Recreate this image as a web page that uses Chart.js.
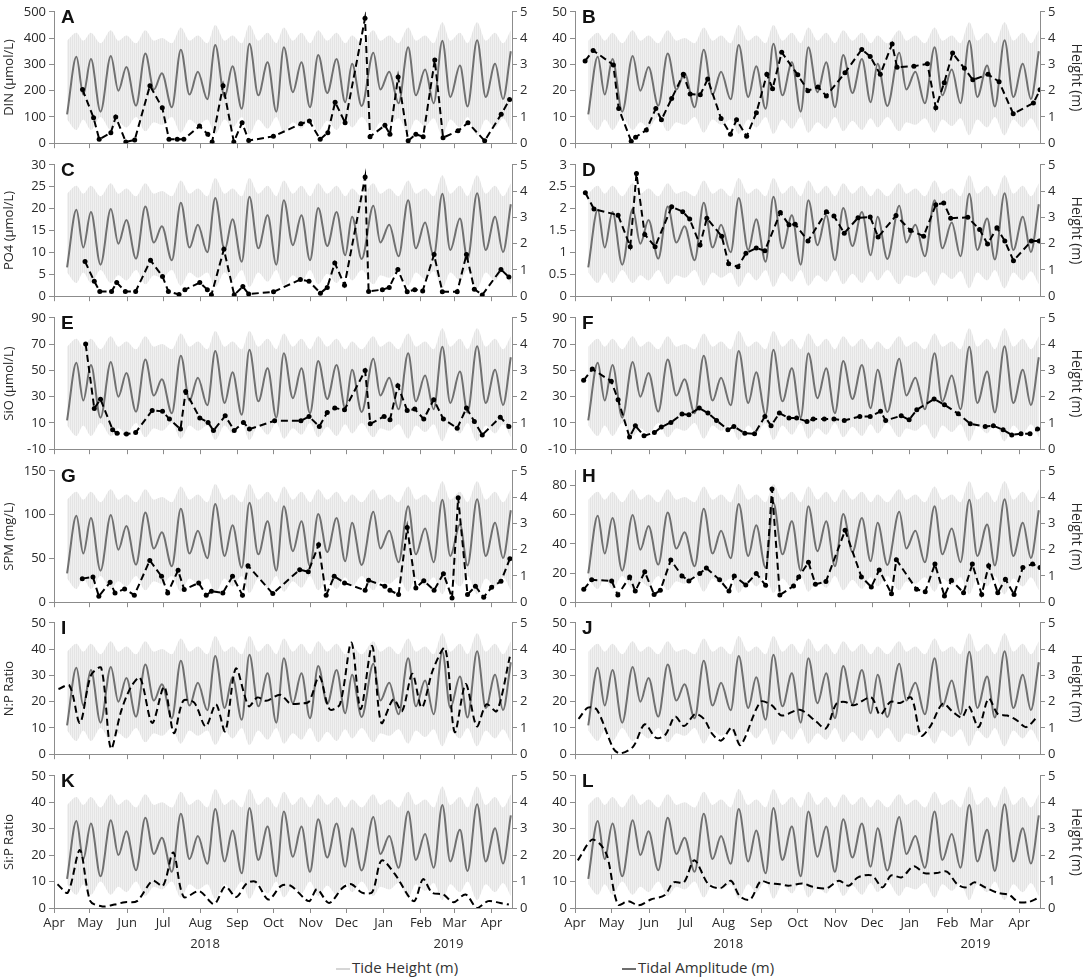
<!DOCTYPE html>
<html>
<head>
<meta charset="utf-8">
<script src="https://cdn.jsdelivr.net/npm/chart.js@4.4.0/dist/chart.umd.min.js"></script>
<style>
  body { margin: 0; background: #fff; width: 1084px; height: 980px; position: relative; overflow: hidden; font-family: 'Open Sans', sans-serif; }
  canvas { position: absolute; }
  .leg { position: absolute; top: 956px; height: 22px; line-height: 22px; font-size: 15px; color: #333; white-space: nowrap; }
  .leg i { display: inline-block; width: 14px; height: 2px; vertical-align: middle; margin-right: 2px; }
</style>
</head>
<body>
<div class="leg" style="left:336px"><i style="background:#d6d6d6"></i>Tide Height (m)</div>
<div class="leg" style="left:622px"><i style="background:#6e6e6e"></i>Tidal Amplitude (m)</div>
<script>
// x values are days since 1 Apr 2018
const monthDays = [0, 30, 61, 91, 122, 153, 183, 214, 244, 275, 306, 334, 365];
const monthLabels = ['Apr', 'May', 'Jun', 'Jul', 'Aug', 'Sep', 'Oct', 'Nov', 'Dec', 'Jan', 'Feb', 'Mar', 'Apr'];
const xMax = 382;

// tidal amplitude, read at its peaks and troughs (m)
const ampDays = [10.9, 18.7, 24.4, 30.8, 38.8, 47.4, 53.7, 60.4, 68.4, 76.2, 83.3, 90.0, 98.3, 105.8, 113, 120, 127.9, 134.5, 142.3, 148.9, 156.6, 163, 170.4, 178.2, 185.4, 191.7, 199.2, 206.4, 213.5, 220.4, 227.9, 235.7, 242.9, 248.6, 256.6, 266.4, 272.2, 279.6, 287.4, 295.4, 301.8, 309.5, 316.7, 323.9, 330.5, 338.6, 344.9, 352.9, 360.1, 367.9, 374.5, 381];
const ampVals = [1.10, 3.29, 1.85, 3.20, 1.20, 3.32, 2.00, 2.90, 1.43, 3.41, 2.04, 2.66, 1.37, 3.56, 1.85, 2.72, 1.67, 3.74, 1.76, 2.93, 1.31, 3.78, 1.82, 3.08, 1.20, 3.65, 1.94, 3.08, 1.37, 3.36, 1.91, 3.20, 1.56, 3.02, 1.42, 3.44, 2.04, 2.72, 1.52, 3.65, 1.82, 2.80, 1.52, 3.90, 1.76, 2.96, 1.40, 3.92, 1.76, 3.02, 1.68, 3.5];
// envelope of the tide height band (m), at the same days
const tideHigh = [3.9, 4.2, 3.9, 4.2, 3.8, 4.3, 3.9, 4.1, 3.8, 4.3, 3.9, 4.0, 3.8, 4.4, 3.9, 4.1, 3.8, 4.5, 3.9, 4.1, 3.8, 4.5, 3.9, 4.2, 3.8, 4.4, 3.9, 4.2, 3.8, 4.3, 3.9, 4.2, 3.8, 4.1, 3.8, 4.3, 3.9, 4.1, 3.8, 4.4, 3.9, 4.1, 3.8, 4.6, 3.9, 4.2, 3.8, 4.6, 3.9, 4.2, 3.8, 4.3];
const tideLow = [0.9, 0.5, 0.9, 0.5, 1.0, 0.5, 0.8, 0.6, 1.0, 0.45, 0.8, 0.7, 1.0, 0.4, 0.9, 0.7, 0.9, 0.35, 0.9, 0.6, 1.0, 0.35, 0.9, 0.55, 1.0, 0.4, 0.8, 0.55, 1.0, 0.45, 0.85, 0.5, 0.95, 0.6, 1.0, 0.45, 0.8, 0.7, 0.95, 0.4, 0.9, 0.65, 0.95, 0.3, 0.9, 0.6, 1.0, 0.3, 0.9, 0.6, 0.95, 0.45];

// sampled variables
const daysA = [23.8, 33, 37.7, 47.4, 51.5, 59.9, 67.3, 80, 90.3, 95.9, 102.8, 108.3, 121.4, 128.3, 131.9, 141, 150, 156.9, 162.4, 183, 206, 213, 222, 228.4, 234.5, 242.8, 259.4, 263.6, 276, 280.2, 287, 295.4, 301.8, 307.9, 317.6, 324.5, 337, 345.3, 359.2, 373, 380];
const dinA = [204, 97, 15, 40, 100, 5, 12, 219, 135, 15, 15, 15, 65, 34, 5, 219, 5, 78, 10, 26, 74, 84, 15, 40, 156, 78, 475, 25, 68, 34, 252, 9, 34, 25, 317, 21, 47, 78, 9, 110, 166];

const daysB = [8.3, 14.9, 31.5, 35.9, 46.2, 49.8, 58.6, 66.4, 71, 79.4, 89, 94.6, 102.9, 109, 120, 127.7, 132.7, 141, 149, 157.6, 162.3, 169.8, 183, 191.3, 199.6, 206.5, 221.8, 235.6, 242.5, 250.8, 260.5, 264.6, 278.4, 289.5, 296.4, 303.3, 310.2, 319.9, 326.8, 339.3, 348.4, 360, 376.6, 382];
const dinB = [31.3, 35.3, 29.8, 13.2, 0.7, 2.3, 5.0, 13.2, 8.9, 17, 26.2, 18.7, 18.4, 24.4, 9.4, 3.4, 8.9, 2.6, 11.6, 26.2, 20.7, 34.6, 26, 20, 21.4, 18, 26.8, 35.7, 33, 26.2, 37.7, 28.9, 29.3, 30.2, 13.5, 23, 34.3, 28.5, 24.1, 26.2, 23.4, 11.2, 15.3, 20.3];

const daysC = [25.9, 33.6, 38.2, 48, 52.3, 59.5, 68.1, 80.5, 90.5, 95.4, 104.3, 109.2, 121.6, 127.9, 131.3, 141.7, 150.3, 157.5, 162.4, 183.1, 205.5, 212.7, 222.2, 227.9, 234.2, 242.3, 259.5, 262.4, 273.9, 279.6, 286.8, 294.6, 300.9, 307.5, 317, 323.9, 336.3, 344, 350.6, 357.2, 372.8, 379.4];
const po4C = [7.9, 3.4, 1.1, 1.1, 3.1, 1.1, 1.1, 8.2, 4.5, 1.1, 0.4, 1.5, 3.1, 1.5, 0.3, 10.7, 0.3, 2.2, 0.5, 1.0, 3.8, 3.4, 0.7, 2.0, 7.6, 2.5, 27.2, 1.1, 1.5, 2.0, 6.1, 1.0, 1.5, 1.2, 9.5, 1.0, 1.0, 9.5, 1.6, 0.3, 6.1, 4.4];

const daysD = [8.5, 15.6, 35.4, 45.4, 50.5, 57.3, 65.8, 79.4, 88.5, 94.2, 102.7, 108.3, 120.5, 126.2, 133.9, 140.4, 148.9, 156, 168.7, 175.8, 180.9, 191.4, 206.5, 212.7, 221.2, 232.5, 242.5, 249, 263.7, 275.7, 286.4, 296.4, 302.9, 308.6, 322.7, 332.4, 338.9, 346.6, 353.1, 360.2, 374.9, 381.4];
const po4D = [2.36, 1.99, 1.85, 1.13, 2.8, 1.41, 1.13, 2.04, 1.93, 1.76, 1.17, 1.78, 1.37, 0.74, 0.67, 0.98, 1.10, 1.04, 1.91, 1.63, 1.64, 1.26, 1.93, 1.83, 1.44, 1.79, 1.81, 1.35, 1.84, 1.50, 1.37, 2.09, 2.13, 1.78, 1.8, 1.52, 1.19, 1.56, 1.26, 0.81, 1.26, 1.26];

const daysE = [26.4, 33.6, 38.8, 48.9, 52.6, 60.4, 68.1, 81.9, 90.5, 96.3, 105.5, 109.8, 121.6, 128.5, 133, 142.8, 150.3, 158, 163, 184, 206, 212.7, 221.3, 227.9, 234.2, 242.3, 259.5, 263.8, 275.3, 280.2, 286.8, 294.6, 300.9, 308.4, 316.7, 324.8, 336.3, 344, 350.6, 357.2, 372.2, 379.4];
const sioE = [70, 21, 28, 4.8, 2.2, 1.5, 2.7, 19.5, 18.8, 12.9, 5.3, 34, 13.7, 10.4, 4.2, 15.4, 4.2, 10.4, 5.3, 11.6, 11.6, 14.9, 7.3, 18, 21.3, 20, 49.8, 9.3, 14.9, 12.4, 38.3, 19.5, 20.5, 12.9, 27.7, 12.9, 6, 21.3, 11.1, 0.9, 14.4, 7.3];

const daysF = [7.1, 14.2, 29.8, 35.4, 44.8, 49.6, 56.7, 65.2, 70.9, 78.8, 87.9, 93.6, 102.1, 109.2, 116.3, 125.6, 130.5, 139.5, 147.5, 156, 161.1, 167.9, 175.8, 182.1, 190.6, 195.7, 204.8, 212.7, 221.2, 234, 242.5, 251, 255.2, 268, 274.5, 280.8, 295, 303.5, 314.8, 324.7, 337, 343.7, 351.7, 358.8, 366.4, 373.8, 380];
const sioF = [42.4, 51, 41.7, 27.7, -0.8, 7.8, 0.2, 2.7, 6.8, 10.4, 16.7, 16.2, 21.3, 17.5, 11.9, 4.8, 7.3, 2.2, 1.7, 14.9, 7.8, 17.5, 13.7, 13.7, 11.1, 12.9, 12.9, 12.9, 11.9, 14.9, 14.9, 18.8, 11.9, 15.4, 12.4, 20, 28.2, 23.8, 17, 9.3, 7.3, 7.8, 4.8, 0.9, 1.7, 1.7, 5.3];

const daysG = [23.6, 32.5, 37.4, 46.8, 50.9, 58.9, 67, 79.9, 89.7, 94.8, 103.5, 108.6, 120.7, 127, 131.3, 140.8, 148.9, 157.2, 161.8, 182.5, 204.9, 212.1, 220.7, 227, 233.7, 242.3, 259.5, 262.4, 275.9, 280.2, 287.4, 294.6, 301.8, 308.4, 317, 324.8, 332, 337.1, 344.9, 351.5, 358.4, 365, 372.8, 380.2];
const spmG = [26.9, 28.8, 6.8, 22.7, 10.6, 15.2, 8, 47.7, 29.5, 10.6, 36.4, 14.4, 22, 8, 12.5, 10.6, 29.5, 8, 41.7, 9.8, 37.1, 34.8, 65.5, 8, 29.5, 22, 13.6, 25, 18.2, 13.6, 8.7, 85.2, 16.3, 24.6, 13.6, 32.6, 4.9, 119.3, 8.7, 18.2, 5.7, 17, 23.9, 49.6];

const daysH = [7.2, 13.7, 30.1, 35.2, 44.9, 49.5, 57.3, 65, 70.1, 78.7, 87.9, 93.6, 102.5, 107.9, 118.8, 126.5, 130.8, 140.3, 148.9, 156.6, 161.8, 168.3, 179.5, 183.8, 191.8, 197.5, 206.1, 221.9, 235.3, 243.4, 249.9, 260, 264, 280.6, 287.7, 295.7, 303.5, 309.2, 319.2, 326.4, 334.1, 339.8, 347.3, 353.6, 360.7, 367.9, 375.9, 382];
const spmH = [8.8, 15.3, 14.6, 4.9, 17.3, 7.6, 20.8, 5.3, 8.1, 28.9, 18, 14.6, 19.7, 23.4, 15.3, 7.6, 18, 11.8, 19.7, 11.6, 77.5, 4.9, 11.1, 17.3, 27.3, 12.3, 14.1, 49.2, 17.3, 10.4, 22, 5.8, 29.1, 8.8, 7.2, 26.1, 4.2, 15, 6.5, 26.1, 5.3, 25, 6.5, 15.7, 5.3, 23.8, 26.1, 23.8];

const daysI = [3.7, 12.9, 21.6, 30.8, 39.4, 47.4, 56, 64.1, 71.8, 81.9, 91.9, 100, 107.8, 117, 126.5, 135.1, 142.8, 151.7, 162.4, 169.6, 176.8, 188.8, 196.9, 205.5, 212.7, 221.3, 229.9, 238.5, 248, 255.8, 265.3, 273, 283.1, 290.3, 298.9, 306.7, 316.1, 326.2, 334.2, 343.4, 352.6, 360.7, 369.3, 380.2];
const npI = [24.8, 26.1, 11.9, 30, 32.8, 2.2, 16.4, 25.5, 29.1, 11.9, 25.7, 8, 20.3, 19.6, 10.6, 19, 8.7, 32.6, 18.3, 21.6, 20.3, 22.6, 19.3, 19.3, 20, 29.6, 17.1, 19, 42.5, 17.1, 41.2, 11.9, 20.9, 16.4, 30.6, 17.7, 32.2, 40.3, 8.4, 26.7, 10.6, 19, 16.4, 37.1];

const daysJ = [2.9, 10.6, 18, 31.5, 37.2, 47.8, 57.3, 66.7, 74.4, 82.2, 89.6, 98.8, 105.9, 113.1, 120.2, 128.8, 136, 152.3, 161.8, 169.8, 184.7, 197.5, 206.1, 214.7, 221.9, 229, 243.4, 250.6, 259.1, 267.1, 276.3, 284.3, 292, 302, 310.6, 317.8, 323.5, 331.5, 339.8, 347.3, 355, 362.7, 370.7, 379.9];
const npJ = [13.4, 17.7, 16.9, 2.2, 0.3, 2.9, 11.4, 6.2, 7.5, 14.3, 10.7, 15.3, 13.4, 7.5, 5.2, 10.1, 3.5, 19.9, 18.6, 14.7, 16.9, 12.7, 9.8, 19.2, 19.9, 18.6, 21.6, 15, 19.9, 19.5, 21.5, 7.1, 10.7, 19.2, 16, 14, 18.2, 10.3, 21.2, 15.3, 14.7, 13, 10.3, 14.4];

const daysK = [2.9, 11.5, 21.6, 30.3, 40.4, 50.5, 59.1, 69.2, 82.2, 90.9, 99.5, 108.2, 121.2, 133.6, 142.8, 152, 160.7, 168.2, 178.9, 189.5, 197.6, 212.6, 219.3, 229.4, 240.9, 248.1, 256.8, 265.4, 273.2, 284.2, 300, 307.8, 315.3, 324.6, 333.2, 343.3, 352.8, 362.1, 372.2, 379.4];
const sipK = [9.0, 5.8, 21.9, 2.6, 0.6, 1.3, 2.2, 2.6, 10.3, 8.4, 21, 4.2, 6.4, 1.5, 8.1, 4.2, 9.3, 9.9, 3.2, 8.4, 8.4, 2.6, 7.1, 1.9, 7.7, 9, 5.8, 6, 18, 12.9, 2.6, 10.9, 5.8, 5.1, 2.2, 5.1, 0, 2.6, 1.9, 1.3];

const daysL = [2.3, 13.7, 20.9, 26.6, 35.2, 43.8, 52.3, 62.3, 73.8, 80.9, 89.5, 98.1, 109.5, 119.5, 128.1, 135.3, 143.9, 152.4, 159.6, 168.2, 175.3, 186.8, 195.3, 206.8, 216.8, 224.8, 232.5, 244, 252.5, 259.7, 268.3, 278.3, 286.9, 296.9, 305.4, 314, 321.2, 328.3, 336.9, 346.9, 356.9, 364.1, 372.7, 379.8];
const sipL = [18, 25.8, 24, 19.4, 1.3, 2.6, 1, 3.2, 4.9, 9.7, 9.7, 18.1, 9, 7.5, 10.3, 4.5, 3.2, 10.1, 9.4, 9, 8.4, 9.3, 8, 7.5, 10.3, 8.4, 11.6, 12.3, 7.8, 12.3, 11.6, 15.8, 13.2, 13.2, 13.8, 9, 7.8, 9.7, 7.8, 5.8, 4.9, 2.3, 2.3, 3.6];

// left axis ticks per panel
const ticksDIN = [0, 100, 200, 300, 400, 500];
const ticks50 = [0, 10, 20, 30, 40, 50];
const ticksPO4C = [0, 5, 10, 15, 20, 25, 30];
const ticksPO4D = [0, 0.5, 1, 1.5, 2, 2.5, 3];
const ticksSiO = [-10, 10, 30, 50, 70, 90];
const ticksSPMG = [0, 50, 100, 150];
const ticksSPMH = [0, 20, 40, 60, 80];

const panels = [
  { letter: 'A', row: 0, col: 0, title: 'DIN (μmol/L)', min: 0, max: 500, ticks: ticksDIN, days: daysA, vals: dinA, dots: true },
  { letter: 'B', row: 0, col: 1, title: '', min: 0, max: 50, ticks: ticks50, days: daysB, vals: dinB, dots: true },
  { letter: 'C', row: 1, col: 0, title: 'PO4 (μmol/L)', min: 0, max: 30, ticks: ticksPO4C, days: daysC, vals: po4C, dots: true },
  { letter: 'D', row: 1, col: 1, title: '', min: 0, max: 3, ticks: ticksPO4D, days: daysD, vals: po4D, dots: true },
  { letter: 'E', row: 2, col: 0, title: 'SiO (μmol/L)', min: -10, max: 90, ticks: ticksSiO, days: daysE, vals: sioE, dots: true },
  { letter: 'F', row: 2, col: 1, title: '', min: -10, max: 90, ticks: ticksSiO, days: daysF, vals: sioF, dots: true },
  { letter: 'G', row: 3, col: 0, title: 'SPM (mg/L)', min: 0, max: 150, ticks: ticksSPMG, days: daysG, vals: spmG, dots: true },
  { letter: 'H', row: 3, col: 1, title: '', min: 0, max: 90, ticks: ticksSPMH, days: daysH, vals: spmH, dots: true },
  { letter: 'I', row: 4, col: 0, title: 'N:P Ratio', min: 0, max: 50, ticks: ticks50, days: daysI, vals: npI, dots: false },
  { letter: 'J', row: 4, col: 1, title: '', min: 0, max: 50, ticks: ticks50, days: daysJ, vals: npJ, dots: false },
  { letter: 'K', row: 5, col: 0, title: 'Si:P Ratio', min: 0, max: 50, ticks: ticks50, days: daysK, vals: sipK, dots: false },
  { letter: 'L', row: 5, col: 1, title: '', min: 0, max: 50, ticks: ticks50, days: daysL, vals: sipL, dots: false }
];

// layout of the grid
const cols = [
  { left: 0, width: 540, yW: 54, y2W: 28 },
  { left: 540, width: 544, yW: 35, y2W: 44 }
];
const rowTops = [11, 164, 317, 470, 622, 775];
const plotH = 133;
const padTop = 10;

const axisColor = '#8c8c8c';
const textColor = '#2a2a2a';
const tickFont = { family: 'Open Sans', size: 13 };

// faint vertical striping for the tide height band
const pc = document.createElement('canvas');
pc.width = 2; pc.height = 4;
const pg = pc.getContext('2d');
pg.fillStyle = '#f0f0f0'; pg.fillRect(0, 0, 2, 4);
pg.fillStyle = '#e4e4e4'; pg.fillRect(0, 0, 1, 4);
const bandFill = pg.createPattern(pc, 'repeat');

const zip = (xs, ys) => xs.map((x, i) => ({ x: x, y: ys[i] }));

const panelLetter = {
  id: 'panelLetter',
  afterDraw(chart, args, opts) {
    const ctx = chart.ctx;
    ctx.save();
    ctx.font = 'bold 19px "Liberation Sans"';
    ctx.fillStyle = '#111';
    ctx.textBaseline = 'top';
    ctx.fillText(opts.text, chart.chartArea.left + 7, chart.chartArea.top - 4);
    ctx.restore();
  }
};

const yearLabels = {
  id: 'yearLabels',
  afterDraw(chart, args, opts) {
    if (!opts.show) return;
    const ctx = chart.ctx, x = chart.scales.x;
    ctx.save();
    ctx.font = '13px "Open Sans"';
    ctx.fillStyle = textColor;
    ctx.textAlign = 'center';
    ctx.textBaseline = 'middle';
    ctx.fillText('2018', x.getPixelForValue(126), chart.chartArea.bottom + 36);
    ctx.fillText('2019', x.getPixelForValue(329), chart.chartArea.bottom + 36);
    ctx.restore();
  }
};

function makePanel(p) {
  const c = cols[p.col];
  const bottom = p.row === 5;
  const xH = bottom ? 60 : 10;
  const cv = document.createElement('canvas');
  cv.width = c.width;
  cv.height = padTop + plotH + xH;
  cv.style.left = c.left + 'px';
  cv.style.top = (rowTops[p.row] - padTop) + 'px';
  document.body.appendChild(cv);

  new Chart(cv, {
    type: 'line',
    data: {
      datasets: [
        {
          data: zip(p.days, p.vals), yAxisID: 'y', borderColor: '#000', borderWidth: 2,
          borderDash: [7, 4], pointRadius: p.dots ? 2.5 : 0, pointBackgroundColor: '#000',
          pointBorderWidth: 0, tension: p.dots ? 0 : 0.3, fill: false, order: 0
        },
        {
          data: zip(ampDays, ampVals), yAxisID: 'y2', borderColor: '#707070', borderWidth: 2,
          pointRadius: 0, cubicInterpolationMode: 'monotone', fill: false, order: 1
        },
        {
          data: zip(ampDays, tideHigh), yAxisID: 'y2', borderColor: 'rgba(0,0,0,0)', borderWidth: 1,
          pointRadius: 0, cubicInterpolationMode: 'monotone', fill: '+1', backgroundColor: bandFill, order: 2
        },
        {
          data: zip(ampDays, tideLow), yAxisID: 'y2', borderColor: 'rgba(0,0,0,0)', borderWidth: 1,
          pointRadius: 0, cubicInterpolationMode: 'monotone', fill: false, order: 3
        }
      ]
    },
    options: {
      responsive: false,
      animation: false,
      events: [],
      layout: { padding: { top: padTop, left: 0, right: 0, bottom: 0 } },
      plugins: {
        legend: { display: false },
        tooltip: { enabled: false },
        panelLetter: { text: p.letter },
        yearLabels: { show: bottom }
      },
      scales: {
        x: {
          type: 'linear', min: 0, max: xMax,
          afterBuildTicks: s => { s.ticks = monthDays.map(v => ({ value: v })); },
          afterFit: s => { s.height = xH; },
          ticks: {
            display: bottom, autoSkip: false, maxRotation: 0, padding: 2,
            color: textColor, font: tickFont,
            callback: (v, i) => monthLabels[i]
          },
          grid: { drawOnChartArea: false, drawTicks: true, tickLength: 5, color: axisColor },
          border: { display: true, color: axisColor }
        },
        y: {
          position: 'left', min: p.min, max: p.max,
          afterBuildTicks: s => { s.ticks = p.ticks.map(v => ({ value: v })); },
          afterFit: s => { s.width = c.yW; },
          ticks: { color: textColor, font: tickFont, padding: 3, callback: v => String(v) },
          grid: { drawOnChartArea: false, drawTicks: true, tickLength: 5, color: axisColor },
          border: { display: true, color: axisColor },
          title: { display: p.title !== '', text: p.title, color: textColor, font: { family: 'Open Sans', size: 13 }, padding: { top: 1, bottom: 0 } }
        },
        y2: {
          position: 'right', min: 0, max: 5,
          ticks: { stepSize: 1, color: textColor, font: tickFont, padding: 3 },
          afterFit: s => { s.width = c.y2W; },
          grid: { drawOnChartArea: false, drawTicks: true, tickLength: 5, color: axisColor },
          border: { display: true, color: axisColor },
          title: { display: p.col === 1, text: 'Height (m)', color: textColor, font: { family: 'Open Sans', size: 14 }, padding: { top: 0, bottom: 1 } }
        }
      }
    },
    plugins: [panelLetter, yearLabels]
  });
}

panels.forEach(makePanel);
</script>
</body>
</html>
